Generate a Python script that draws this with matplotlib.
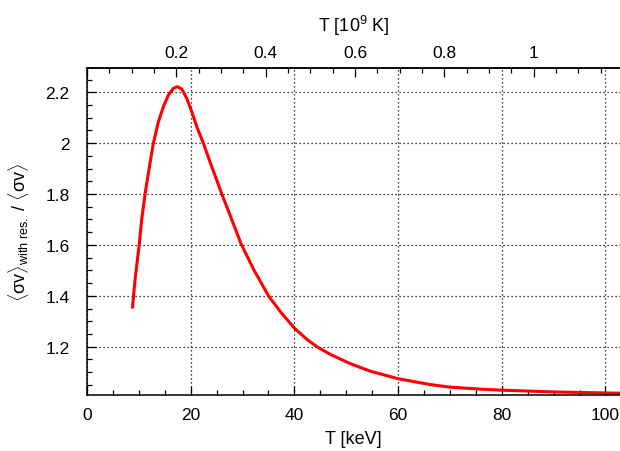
import numpy as np
import matplotlib
matplotlib.use('Agg')
from matplotlib import pyplot as plt
from matplotlib.ticker import MultipleLocator, FuncFormatter

T_keV = [8.76, 9.28, 10.05, 10.57, 11.2, 11.98, 12.8, 13.77, 14.74, 15.7, 16.67,
         17.44, 18.28, 19.25, 20.2, 21.3, 22.45, 23.8, 24.9, 26.0, 27.8, 29.7,
         32.1, 35.0, 37.4, 40.0, 42.4, 44.4, 46.9, 50.7, 54.6, 60.0, 66.2, 70.0,
         75.8, 80.0, 90.0, 100.0, 103.0]
ratio = [1.350, 1.466, 1.597, 1.703, 1.80, 1.90, 2.00, 2.084, 2.144, 2.189, 2.216,
         2.222, 2.213, 2.176, 2.124, 2.058, 2.00, 1.922, 1.862, 1.80, 1.706, 1.605,
         1.505, 1.40, 1.335, 1.273, 1.229, 1.199, 1.170, 1.134, 1.104, 1.074, 1.051,
         1.041, 1.033, 1.029, 1.022, 1.018, 1.017]

KEV_TO_T9 = 0.011604518

plt.rcParams['font.family'] = ['Liberation Sans', 'DejaVu Sans']
plt.rcParams['mathtext.fontset'] = 'custom'
plt.rcParams['mathtext.rm'] = 'Liberation Sans'
plt.rcParams['mathtext.it'] = 'Liberation Sans:italic'

fig = plt.figure(figsize=(6.2, 4.52), dpi=100)
ax = fig.add_axes([0.1403, 0.1239, 0.8597, 0.7234])

ax.plot(T_keV, ratio, color='#ff0000', lw=2.2, solid_capstyle='butt',
        solid_joinstyle='round')

ax.set_xlim(0, 102.8)
ax.set_ylim(1.010, 2.2955)

ax.xaxis.set_major_locator(MultipleLocator(20))
ax.xaxis.set_minor_locator(MultipleLocator(5))
ax.yaxis.set_major_locator(MultipleLocator(0.2))
ax.yaxis.set_minor_locator(MultipleLocator(0.05))
fmt = FuncFormatter(lambda v, p: '%g' % round(v, 3))
ax.yaxis.set_major_formatter(fmt)

ax.grid(True, which='major', color='black', ls=(0, (1, 2.2)), lw=0.9)
ax.tick_params(which='both', direction='in', top=False, right=False, width=0.9,
               labelsize=12.5)
ax.tick_params(which='major', length=6.5)
ax.tick_params(which='minor', length=3.6)
ax.tick_params(axis='x', pad=8.5)
ax.tick_params(axis='y', pad=12.5)
for s in ax.spines.values():
    s.set_linewidth(1.1)
ax.spines['right'].set_visible(False)

ax.set_xlabel('T [keV]', fontsize=13, labelpad=6)
ax.set_ylabel(r'$\langle\mathrm{σv}\rangle_{\mathrm{with\ res.}}$ / $\langle\mathrm{σv}\rangle$',
              fontsize=13, labelpad=10)

top = ax.secondary_xaxis('top', functions=(lambda x: x * KEV_TO_T9,
                                           lambda x: x / KEV_TO_T9))
top.xaxis.set_major_locator(MultipleLocator(0.2))
top.xaxis.set_minor_locator(MultipleLocator(0.05))
top.xaxis.set_major_formatter(FuncFormatter(
    lambda v, p: '%g' % round(v, 3) if 0.1 < v < 1.1 else ''))
top.tick_params(which='both', direction='in', width=0.9, labelsize=12.5, pad=6)
top.tick_params(which='major', length=6.5)
top.tick_params(which='minor', length=3.6)
top.spines['top'].set_linewidth(1.1)
top.set_xlabel('T [10$^{9}$ K]', fontsize=13, labelpad=10)

fig.savefig('out.png', dpi=100)
